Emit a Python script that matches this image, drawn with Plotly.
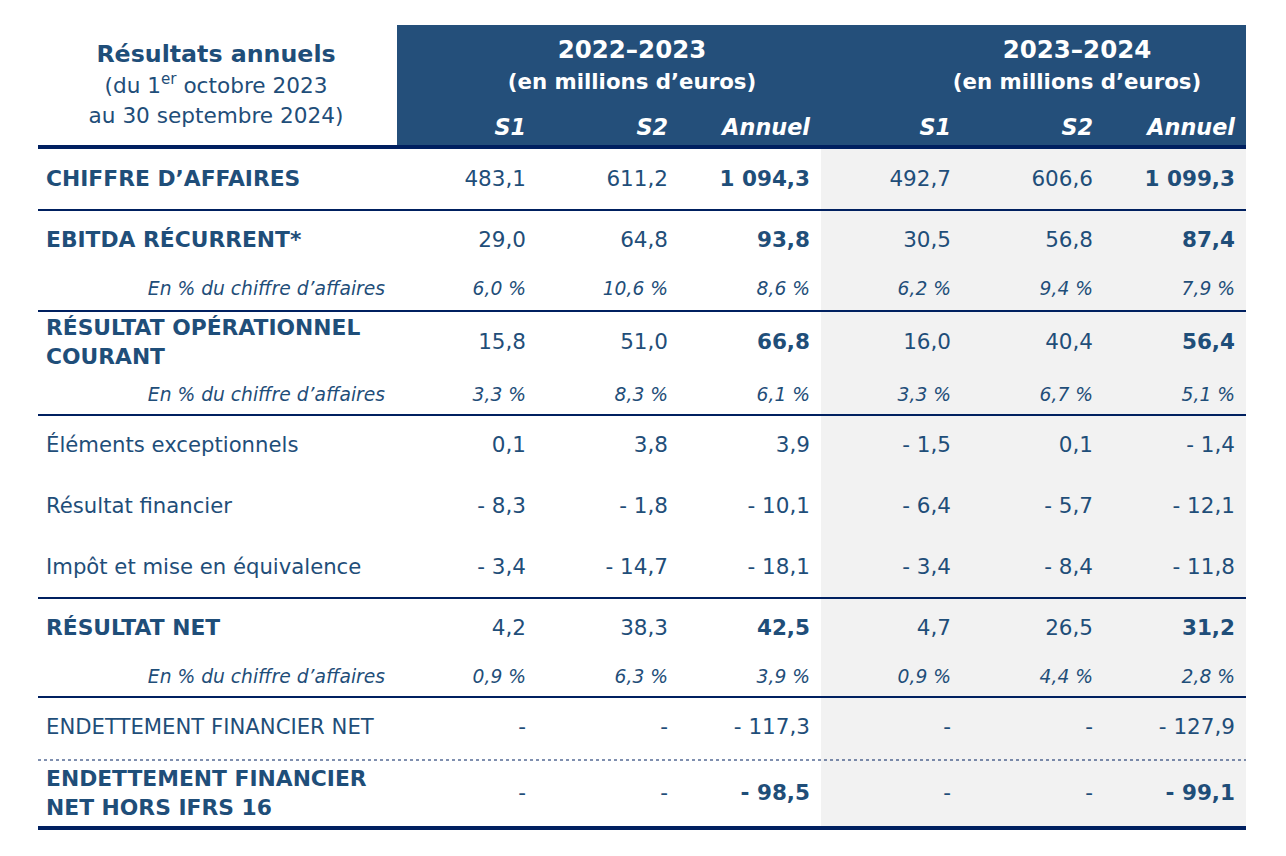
import plotly.graph_objects as go

# Row labels (two-line labels use <br>)
row_labels = [
    "CHIFFRE D’AFFAIRES",
    "EBITDA RÉCURRENT*",
    "En % du chiffre d’affaires",
    "RÉSULTAT OPÉRATIONNEL<br>COURANT",
    "En % du chiffre d’affaires",
    "Éléments exceptionnels",
    "Résultat financier",
    "Impôt et mise en équivalence",
    "RÉSULTAT NET",
    "En % du chiffre d’affaires",
    "ENDETTEMENT FINANCIER NET",
    "ENDETTEMENT FINANCIER<br>NET HORS IFRS 16",
]
row_kind = ["bold", "bold", "pct", "bold", "pct", "reg", "reg", "reg", "bold", "pct", "reg", "bold"]

# Values in millions of euros (None = "-")
s1_2022_2023 = [483.1, 29.0, 6.0, 15.8, 3.3, 0.1, -8.3, -3.4, 4.2, 0.9, None, None]
s2_2022_2023 = [611.2, 64.8, 10.6, 51.0, 8.3, 3.8, -1.8, -14.7, 38.3, 6.3, None, None]
annuel_2022_2023 = [1094.3, 93.8, 8.6, 66.8, 6.1, 3.9, -10.1, -18.1, 42.5, 3.9, -117.3, -98.5]
s1_2023_2024 = [492.7, 30.5, 6.2, 16.0, 3.3, -1.5, -6.4, -3.4, 4.7, 0.9, None, None]
s2_2023_2024 = [606.6, 56.8, 9.4, 40.4, 6.7, 0.1, -5.7, -8.4, 26.5, 4.4, None, None]
annuel_2023_2024 = [1099.3, 87.4, 7.9, 56.4, 5.1, -1.4, -12.1, -11.8, 31.2, 2.8, -127.9, -99.1]

periods = ["2022–2023", "2023–2024"]
sub_headers = ["S1", "S2", "Annuel", "S1", "S2", "Annuel"]

TEXT = "#1F4E79"
HEAD = "#244F7A"
LINE = "#002060"
GREY = "#F2F2F2"
FONT = "DejaVu Sans"

# layout grid (page pixels)
row_y = [181, 242, 290, 344, 396, 447, 508, 569, 630, 678, 729, 795]
col_x = [526, 668, 810, 951, 1093, 1235]
PAGE_PAD = 8  # browser body margin


def fmt(v, pct=False):
    if v is None:
        return "-"
    s = f"{abs(v):,.1f}".replace(",", " ").replace(".", ",")
    if v < 0:
        s = "- " + s
    if pct:
        s += " %"
    return s


fig = go.Figure()

# row labels
for i, lab in enumerate(row_labels):
    k = row_kind[i]
    if k == "pct":
        fig.add_trace(go.Scatter(x=[385], y=[row_y[i]], mode="text", text=["<i>" + lab + "</i>"],
                                 textposition="middle left", hoverinfo="skip",
                                 textfont=dict(family=FONT, size=18.7, color=TEXT)))
    else:
        t = "<b>" + lab + "</b>" if k == "bold" else lab
        fig.add_trace(go.Scatter(x=[46], y=[row_y[i]], mode="text", text=[t],
                                 textposition="middle right", hoverinfo="skip",
                                 textfont=dict(family=FONT, size=21.8 if k == "bold" else 21.2,
                                               color=TEXT)))

# value columns
columns = [s1_2022_2023, s2_2022_2023, annuel_2022_2023, s1_2023_2024, s2_2023_2024, annuel_2023_2024]
for c, vals in enumerate(columns):
    texts, sizes = [], []
    for i, v in enumerate(vals):
        k = row_kind[i]
        s = fmt(v, pct=(k == "pct"))
        if k == "pct":
            s = "<i>" + s + "</i>"
            sizes.append(18.7)
        else:
            if k == "bold" and sub_headers[c] == "Annuel":
                s = "<b>" + s + "</b>"
            sizes.append(21.5)
        texts.append(s)
    fig.add_trace(go.Scatter(x=[col_x[c]] * len(vals), y=row_y, mode="text", text=texts,
                             textposition="middle left", hoverinfo="skip",
                             textfont=dict(family=FONT, size=sizes, color=TEXT)))

# header texts
fig.add_trace(go.Scatter(x=[216, 216, 216], y=[56, 88, 118], mode="text",
                         text=["<b>Résultats annuels</b>", "(du 1<sup>er</sup> octobre 2023",
                               "au 30 septembre 2024)"],
                         textposition="middle center", hoverinfo="skip",
                         textfont=dict(family=FONT, size=[23.7, 21.6, 21.6], color=TEXT)))
fig.add_trace(go.Scatter(x=[632, 632, 1077, 1077], y=[52, 84, 52, 84], mode="text",
                         text=["<b>" + periods[0] + "</b>", "<b>(en millions d’euros)</b>",
                               "<b>" + periods[1] + "</b>", "<b>(en millions d’euros)</b>"],
                         textposition="middle center", hoverinfo="skip",
                         textfont=dict(family=FONT, size=[24.5, 21.3, 24.5, 21.3], color="white")))
fig.add_trace(go.Scatter(x=col_x, y=[129] * 6, mode="text",
                         text=["<b><i>" + h + "</i></b>" for h in sub_headers],
                         textposition="middle left", hoverinfo="skip",
                         textfont=dict(family=FONT, size=22.3, color="white")))

shapes = [
    dict(type="rect", x0=397, x1=1246, y0=25, y1=145, fillcolor=HEAD, line_width=0, layer="below"),
    dict(type="rect", x0=821, x1=1246, y0=149, y1=826, fillcolor=GREY, line_width=0, layer="below"),
    dict(type="line", x0=38, x1=1246, y0=147, y1=147, line=dict(color=LINE, width=4)),
    dict(type="line", x0=38, x1=1246, y0=828, y1=828, line=dict(color=LINE, width=4)),
    dict(type="line", x0=38, x1=1246, y0=760, y1=760, line=dict(color=LINE, width=1, dash="dot")),
]
for yl in [210, 311, 415, 598, 697]:
    shapes.append(dict(type="line", x0=38, x1=1246, y0=yl, y1=yl, line=dict(color=LINE, width=2)))

fig.update_layout(
    width=1286 - PAGE_PAD, height=856 - PAGE_PAD,
    margin=dict(l=0, r=0, t=0, b=0),
    paper_bgcolor="white", plot_bgcolor="white",
    showlegend=False,
    xaxis=dict(range=[PAGE_PAD, 1286], visible=False, fixedrange=True),
    yaxis=dict(range=[856, PAGE_PAD], visible=False, fixedrange=True),
    shapes=shapes,
)

fig.write_html("out.html", config={"displayModeBar": False})
